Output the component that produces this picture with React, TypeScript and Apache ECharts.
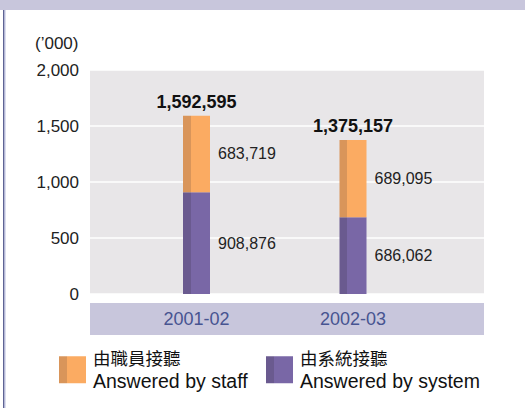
import React, { useEffect, useRef } from "react";
import * as echarts from "echarts";

const categories = ["2001-02", "2002-03"];
const staffValues = [683719, 689095];
const systemValues = [908876, 686062];
const staffLabelCn = "由職員接聽";
const systemLabelCn = "由系統接聽";
const staffName = "Answered by staff";
const systemName = "Answered by system";
const yMax = 2000000;
const yInterval = 500000;
const unitLabel = "(’000)";

const FONT = "'Liberation Sans', Arial, 'Noto Sans CJK TC', sans-serif";
const CJK = "'Noto Sans CJK TC', 'Liberation Sans', sans-serif";

const fmt = (n: number) => Math.round(n).toLocaleString("en-US");

const grad = (dark: string, light: string) => ({
  type: "linear",
  x: 0,
  y: 0,
  x2: 1,
  y2: 0,
  colorStops: [
    { offset: 0, color: dark },
    { offset: 0.296, color: dark },
    { offset: 0.296, color: light },
    { offset: 1, color: light },
  ],
});

export default function App() {
  const ref = useRef<HTMLDivElement>(null);
  useEffect(() => {
    document.body.style.margin = "0";
    if (!ref.current) return;
    const chart = echarts.init(ref.current, undefined, { renderer: "svg" });
    const totals = staffValues.map((v, i) => v + systemValues[i]);
    const cnMap: Record<string, string> = {
      [staffName]: staffLabelCn,
      [systemName]: systemLabelCn,
    };
    const legendBase = {
      top: 349,
      padding: 0,
      itemWidth: 27,
      itemHeight: 27,
      icon: "rect",
      itemGap: 0,
      formatter: (name: string) => `{cn|${cnMap[name]}}\n{en|${name}}`,
      textStyle: {
        padding: [0, 0, 0, 2],
        rich: {
          cn: { fontSize: 17.5, fontFamily: CJK, color: "#111", lineHeight: 22 },
          en: { fontSize: 19.5, fontFamily: FONT, color: "#111", lineHeight: 24 },
        },
      },
    };
    chart.setOption({
      animation: false,
      textStyle: { fontFamily: FONT },
      grid: [
        {
          left: 90,
          top: 70,
          width: 394,
          height: 224,
          show: true,
          backgroundColor: "#E8E6E8",
          borderWidth: 0,
        },
        { left: 118.25, top: 70, width: 313, height: 224 },
      ],
      xAxis: [
        { type: "category", gridIndex: 0, show: false, data: categories },
        {
          type: "category",
          gridIndex: 1,
          data: categories,
          axisLine: { show: false },
          axisTick: { show: false },
          axisLabel: {
            fontSize: 18,
            color: "#475491",
            margin: 25,
            verticalAlign: "middle",
          },
        },
      ],
      yAxis: [
        {
          type: "value",
          gridIndex: 0,
          min: 0,
          max: yMax,
          interval: yInterval,
          axisLine: { show: false },
          axisTick: { show: false },
          axisLabel: {
            fontSize: 17,
            color: "#222",
            margin: 11,
            formatter: (v: number) => fmt(v / 1000),
          },
          splitLine: { show: true, lineStyle: { color: "#FFFFFF", width: 1.5 } },
        },
        { type: "value", gridIndex: 1, min: 0, max: yMax, interval: yInterval, show: false },
      ],
      legend: [
        { ...legendBase, left: 59, data: [staffName] },
        { ...legendBase, left: 266, data: [systemName] },
      ],
      graphic: [
        { type: "rect", left: 0, top: 0, z: -10, shape: { width: 525, height: 10 }, style: { fill: "#C8C6DC" } },
        { type: "rect", left: 3, top: 10, z: -10, shape: { width: 1.5, height: 398 }, style: { fill: "#5E6394" } },
        { type: "rect", left: 4.5, top: 10, z: -10, shape: { width: 1, height: 398 }, style: { fill: "#B9BDE0" } },
        { type: "rect", left: 90, top: 303, z: -10, shape: { width: 394, height: 32 }, style: { fill: "#C8C6DC" } },
        {
          type: "text",
          left: 35,
          top: 35,
          style: { text: unitLabel, fontSize: 17, fill: "#222", fontFamily: FONT },
        },
      ],
      series: [
        {
          name: systemName,
          type: "bar",
          stack: "a",
          xAxisIndex: 1,
          yAxisIndex: 1,
          barWidth: 27,
          data: systemValues,
          itemStyle: { color: grad("#6A5A8F", "#7967A6") },
          label: {
            show: true,
            position: "right",
            distance: 8,
            fontSize: 16,
            color: "#222",
            formatter: (p: any) => fmt(p.value),
          },
        },
        {
          name: staffName,
          type: "bar",
          stack: "a",
          xAxisIndex: 1,
          yAxisIndex: 1,
          barWidth: 27,
          data: staffValues,
          itemStyle: { color: grad("#D9955A", "#FBAB62") },
          label: {
            show: true,
            position: "right",
            distance: 8,
            fontSize: 16,
            color: "#222",
            formatter: (p: any) => fmt(p.value),
          },
        },
        {
          name: "total",
          type: "bar",
          stack: "a",
          xAxisIndex: 1,
          yAxisIndex: 1,
          barWidth: 27,
          data: totals.map(() => 0),
          itemStyle: { color: "transparent" },
          label: {
            show: true,
            position: "top",
            distance: 5,
            fontSize: 18,
            fontWeight: "bold",
            color: "#111",
            formatter: (p: any) => fmt(totals[p.dataIndex]),
          },
        },
      ],
    });
    return () => chart.dispose();
  }, []);
  return <div ref={ref} style={{ width: 525, height: 408 }} />;
}
